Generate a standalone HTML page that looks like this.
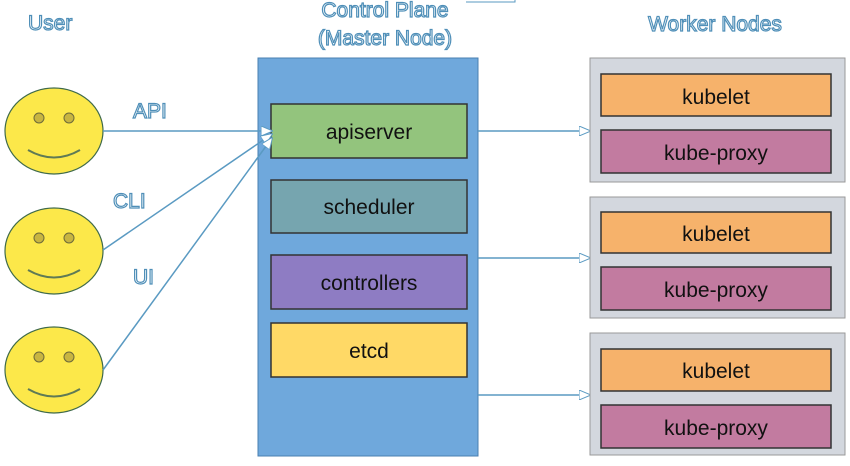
<!DOCTYPE html>
<html><head><style>
html,body{margin:0;padding:0;background:#fff;}
svg{display:block;}
.lbl{font-family:"Liberation Sans",sans-serif;font-size:21px;fill:#fff;stroke:#4f8fb8;stroke-width:1.2px;}
.box{font-family:"Liberation Sans",sans-serif;font-size:21px;fill:#111;text-anchor:middle;}
</style></head><body>
<svg width="850" height="466" viewBox="0 0 850 466" xmlns="http://www.w3.org/2000/svg">
<defs>
<marker id="ah" markerWidth="12" markerHeight="10" refX="11" refY="5" orient="auto" markerUnits="userSpaceOnUse">
<path d="M0,0 L12,5 L0,10 Z" fill="#fff" stroke="#5a9ac2" stroke-width="1"/>
</marker>
</defs>
<text class="lbl" x="28" y="30">User</text>
<text class="lbl" x="385" y="17" text-anchor="middle">Control Plane</text>
<text class="lbl" x="385" y="45" text-anchor="middle">(Master Node)</text>
<text class="lbl" x="715" y="31" text-anchor="middle">Worker Nodes</text>
<path d="M466,2 L515,2 L515,0" fill="none" stroke="#5a9ac2" stroke-width="1"/>
<text class="lbl" x="133" y="118">API</text>
<text class="lbl" x="113" y="208">CLI</text>
<text class="lbl" x="133" y="284">UI</text>

<g stroke="#3f6a4a" stroke-width="1.2">
<ellipse cx="54" cy="131" rx="49" ry="43" fill="#fce84a"/>
<ellipse cx="54" cy="251" rx="49" ry="43" fill="#fce84a"/>
<ellipse cx="54" cy="370" rx="49" ry="43" fill="#fce84a"/>
</g>
<g fill="#c8b541" stroke="#6d6a3a" stroke-width="1">
<circle cx="39" cy="118" r="5"/><circle cx="69" cy="118" r="5"/>
<circle cx="39" cy="238" r="5"/><circle cx="69" cy="238" r="5"/>
<circle cx="39" cy="357" r="5"/><circle cx="69" cy="357" r="5"/>
</g>
<g fill="none" stroke="#5f7a55" stroke-width="2">
<path d="M28,150 Q54,165 80,150"/>
<path d="M28,270 Q54,285 80,270"/>
<path d="M28,389 Q54,404 80,389"/>
</g>

<rect x="258" y="58" width="220" height="398" fill="#6fa8dc" stroke="#4a7fb0" stroke-width="1"/>
<rect x="271" y="104" width="196" height="54" fill="#93c47d" stroke="#333" stroke-width="1.5"/>
<text class="box" x="369" y="139">apiserver</text>
<rect x="271" y="180" width="196" height="53" fill="#76a5af" stroke="#333" stroke-width="1.5"/>
<text class="box" x="369" y="214">scheduler</text>
<rect x="271" y="255" width="196" height="54" fill="#8e7cc3" stroke="#333" stroke-width="1.5"/>
<text class="box" x="369" y="290">controllers</text>
<rect x="271" y="323" width="196" height="54" fill="#ffd966" stroke="#333" stroke-width="1.5"/>
<text class="box" x="369" y="358">etcd</text>

<g stroke="#5a9ac2" stroke-width="1.5" fill="none">
<line x1="103" y1="131" x2="272" y2="131" marker-end="url(#ah)"/>
<line x1="103" y1="250" x2="272" y2="134" marker-end="url(#ah)"/>
<line x1="103" y1="370" x2="272" y2="138" marker-end="url(#ah)"/>
<line x1="478" y1="131" x2="590" y2="131" marker-end="url(#ah)"/>
<line x1="478" y1="258" x2="590" y2="258" marker-end="url(#ah)"/>
<line x1="478" y1="395" x2="590" y2="395" marker-end="url(#ah)"/>
</g>

<g>
<rect x="590" y="58" width="255" height="124" fill="#d3d7de" stroke="#999" stroke-width="1"/>
<rect x="601" y="74" width="230" height="42" fill="#f6b26b" stroke="#333" stroke-width="1.5"/>
<text class="box" x="716" y="104">kubelet</text>
<rect x="601" y="130" width="230" height="43" fill="#c27ba0" stroke="#333" stroke-width="1.5"/>
<text class="box" x="716" y="160">kube-proxy</text>

<rect x="590" y="197" width="255" height="121" fill="#d3d7de" stroke="#999" stroke-width="1"/>
<rect x="601" y="212" width="230" height="41" fill="#f6b26b" stroke="#333" stroke-width="1.5"/>
<text class="box" x="716" y="241">kubelet</text>
<rect x="601" y="267" width="230" height="43" fill="#c27ba0" stroke="#333" stroke-width="1.5"/>
<text class="box" x="716" y="297">kube-proxy</text>

<rect x="590" y="333" width="255" height="122" fill="#d3d7de" stroke="#999" stroke-width="1"/>
<rect x="601" y="349" width="230" height="42" fill="#f6b26b" stroke="#333" stroke-width="1.5"/>
<text class="box" x="716" y="378">kubelet</text>
<rect x="601" y="405" width="230" height="43" fill="#c27ba0" stroke="#333" stroke-width="1.5"/>
<text class="box" x="716" y="435">kube-proxy</text>
</g>
</svg>
</body></html>
